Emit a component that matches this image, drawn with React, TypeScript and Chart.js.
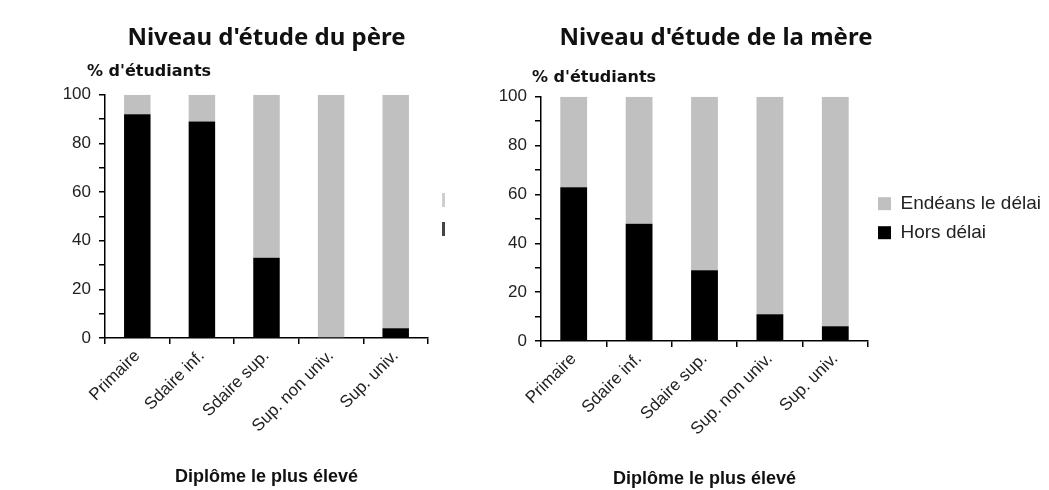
import React, { useEffect, useRef } from "react";
import { Chart, registerables } from "chart.js";

Chart.register(...registerables);

const categories = ["Primaire", "Sdaire inf.", "Sdaire sup.", "Sup. non univ.", "Sup. univ."];
const pereHors = [92, 89, 33, 0, 4];
const pereDelai = [8, 11, 67, 100, 96];
const mereHors = [63, 48, 29, 11, 6];
const mereDelai = [37, 52, 71, 89, 94];
const yTickLabels = [0, 20, 40, 60, 80, 100];
const seriesNames = ["Hors délai", "Endéans le délai"];
const chartTitles = ["Niveau d'étude du père", "Niveau d'étude de la mère"];
const yTitle = "% d'étudiants";
const xTitle = "Diplôme le plus élevé";

const GRAY = "#c0c0c0";
const BLACK = "#000000";
const TEXT = "#111111";
const SANS = "'Liberation Sans', Arial, sans-serif";

const topLabelPlugin = {
  id: "topLabel",
  afterDraw(chart: any, _args: any, opts: any) {
    if (!opts || !opts.text) return;
    const ctx = chart.ctx;
    const a = chart.chartArea;
    ctx.save();
    ctx.font = opts.font;
    ctx.fillStyle = opts.color;
    ctx.textAlign = "left";
    ctx.textBaseline = "middle";
    ctx.fillText(opts.text, a.left + opts.dx, a.top + opts.dy);
    ctx.restore();
  },
};

// keeps the legend column at a fixed width (Chart.js caps side boxes at a quarter of the canvas)
const legendWidthPlugin = {
  id: "legendWidth",
  beforeLayout(chart: any, _args: any, opts: any) {
    const lg = chart.legend;
    if (!lg || !opts || !opts.width || lg.__fixedWidth) return;
    const orig = lg.fit;
    lg.fit = function () {
      orig.call(this);
      this.width = opts.width;
    };
    lg.__fixedWidth = true;
  },
};

type P = {
  title: string;
  hors: number[];
  delai: number[];
  legend: boolean;
  padding: any;
  yWidth: number;
  xHeight: number;
  titlePad: any;
  titleFull: boolean;
  xTitleBottom: number;
  labelDx: number;
  labelDy: number;
  legendTop: number;
  legendWidth: number;
};

function makeConfig(p: P): any {
  return {
    type: "bar",
    data: {
      labels: categories,
      datasets: [
        {
          label: seriesNames[0],
          data: p.hors,
          backgroundColor: BLACK,
          borderWidth: 0,
          categoryPercentage: 1,
          barPercentage: 0.41,
        },
        {
          label: seriesNames[1],
          data: p.delai,
          backgroundColor: GRAY,
          borderWidth: 0,
          categoryPercentage: 1,
          barPercentage: 0.41,
        },
      ],
    },
    options: {
      responsive: false,
      animation: false,
      devicePixelRatio: 1,
      layout: { padding: p.padding },
      plugins: {
        title: {
          display: true,
          text: p.title,
          fullSize: p.titleFull,
          color: TEXT,
          font: { family: "'Noto Sans', sans-serif", size: 24, weight: "bold" },
          padding: p.titlePad,
        },
        legend: {
          display: p.legend,
          position: "right",
          align: "start",
          reverse: true,
          title: {
            display: true,
            text: " ",
            font: { size: 1 },
            padding: { top: p.legendTop, bottom: 0 },
          },
          labels: {
            boxWidth: 13,
            boxHeight: 13,
            padding: 10,
            color: "#222",
            font: { family: SANS, size: 19 },
          },
        },
        legendWidth: { width: p.legendWidth },
        tooltip: { enabled: false },
        topLabel: {
          text: yTitle,
          font: "bold 16px 'DejaVu Sans', sans-serif",
          color: TEXT,
          dx: p.labelDx,
          dy: p.labelDy,
        },
      },
      scales: {
        x: {
          stacked: true,
          afterFit: (s: any) => {
            s.height = p.xHeight;
          },
          ticks: {
            minRotation: 45,
            maxRotation: 45,
            autoSkip: false,
            color: "#222",
            padding: 2,
            font: { family: SANS, size: 17 },
          },
          grid: {
            offset: true,
            drawOnChartArea: false,
            drawTicks: true,
            tickLength: 6,
            color: "#000",
            lineWidth: 1.5,
          },
          border: { display: true, color: "#000", width: 1.5 },
          title: {
            display: true,
            text: xTitle,
            color: TEXT,
            font: { family: SANS, size: 18, weight: "bold" },
            padding: { top: 0, bottom: p.xTitleBottom },
          },
        },
        y: {
          stacked: true,
          min: 0,
          max: 100,
          afterFit: (s: any) => {
            s.width = p.yWidth;
          },
          ticks: {
            stepSize: 10,
            autoSkip: false,
            color: "#222",
            padding: 8,
            font: { family: SANS, size: 17 },
            callback: (v: any) => (yTickLabels.includes(Number(v)) ? String(v) : ""),
          },
          grid: {
            drawOnChartArea: false,
            drawTicks: true,
            tickLength: 6,
            color: "#000",
            lineWidth: 1.5,
          },
          border: { display: true, color: "#000", width: 1.5 },
        },
      },
    },
    plugins: [topLabelPlugin, legendWidthPlugin],
  };
}

function ChartCanvas(props: { p: P; left: number; width: number }) {
  const ref = useRef<HTMLCanvasElement | null>(null);
  useEffect(() => {
    if (!ref.current) return;
    const chart = new Chart(ref.current, makeConfig(props.p));
    return () => chart.destroy();
  }, []);
  return (
    <canvas
      ref={ref}
      width={props.width}
      height={490}
      style={{ position: "absolute", left: props.left, top: 0, width: props.width, height: 490 }}
    />
  );
}

export default function App() {
  const pere: P = {
    title: chartTitles[0],
    hors: pereHors,
    delai: pereDelai,
    legend: false,
    padding: { left: 40, right: 68, top: 0, bottom: 0 },
    yWidth: 45,
    xHeight: 152,
    titlePad: { top: 24, bottom: 42 },
    titleFull: false,
    xTitleBottom: 2,
    labelDx: -18,
    labelDy: -23,
    legendTop: 0,
    legendWidth: 0,
  };
  const mere: P = {
    title: chartTitles[1],
    hors: mereHors,
    delai: mereDelai,
    legend: true,
    padding: { left: 0, right: 0, top: 0, bottom: 0 },
    yWidth: 158,
    xHeight: 149,
    titlePad: { top: 24, bottom: 44 },
    titleFull: true,
    xTitleBottom: 0,
    labelDx: -9,
    labelDy: -19,
    legendTop: 183,
    legendWidth: 181,
  };
  return (
    <div
      style={{
        position: "fixed",
        left: 0,
        top: 0,
        width: 1049,
        height: 490,
        background: "#fff",
        overflow: "hidden",
      }}
    >
      <ChartCanvas p={pere} left={20} width={476} />
      <ChartCanvas p={mere} left={383} width={666} />
      <div style={{ position: "absolute", left: 442, top: 193, width: 3, height: 14, background: "#cfcfcf" }} />
      <div style={{ position: "absolute", left: 442, top: 222, width: 3, height: 14, background: "#444" }} />
    </div>
  );
}
